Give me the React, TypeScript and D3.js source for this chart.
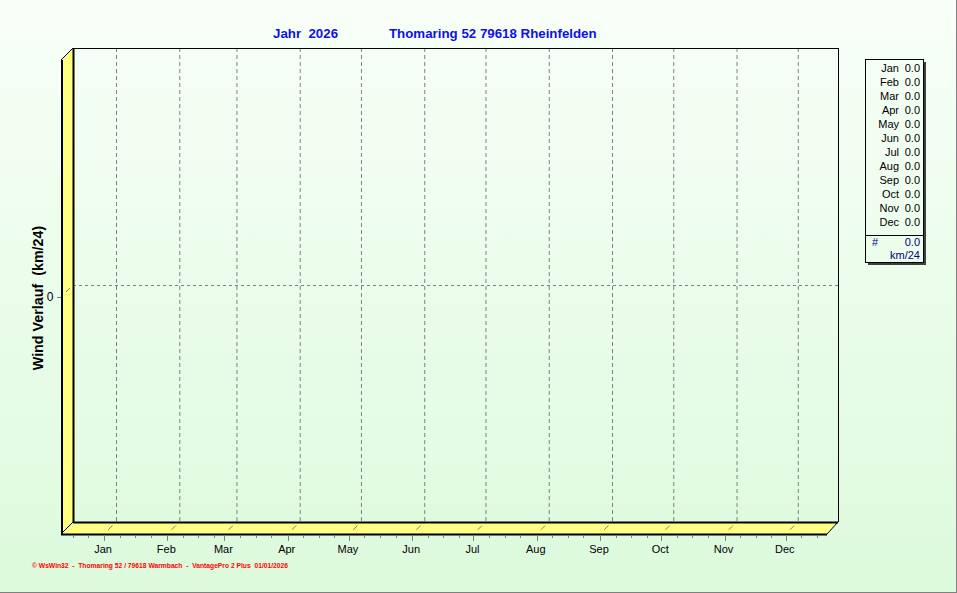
import React from "react";
import * as d3 from "d3";

const months = ["Jan", "Feb", "Mar", "Apr", "May", "Jun", "Jul", "Aug", "Sep", "Oct", "Nov", "Dec"];
const monthStartDay = [0, 31, 59, 90, 120, 151, 181, 212, 243, 273, 304, 334];
const monthValues = [0, 0, 0, 0, 0, 0, 0, 0, 0, 0, 0, 0];
const yTicks = [0];
const totalValue = 0;
const unitLabel = "km/24";
const titleYear = "Jahr  2026";
const titleStation = "Thomaring 52 79618 Rheinfelden";
const yTitle = "Wind Verlauf  (km/24)";
const footer = "\u00a9 WsWin32  -  Thomaring 52 / 79618 Warmbach  -  VantagePro 2 Plus  01/01/2026";

const W = 957;
const H = 593;
const DEPTH = 12;
const front = { left: 61, right: 827, bottom: 534 };
const back = { left: 73, right: 838, top: 48, bottom: 522 };

export default function App() {
  const x = d3.scaleLinear().domain([-21.07, 354.2]).range([front.left, front.right]);
  const y = d3.scaleLinear().domain([-1, 1]).range([back.bottom, back.top]);
  const minorStep = 365.25 / 12 / 4;
  const minorDays: number[] = [];
  for (let k = -3; k < 0; k++) minorDays.push(k * minorStep);
  monthStartDay.forEach((d) => {
    for (let k = 1; k <= 3; k++) minorDays.push(d + k * minorStep);
  });
  const minor = minorDays.filter((d) => x(d) >= front.left && x(d) <= front.right);
  const gray = "#808080";
  const legX = 865, legY = 59, legW = 58, legH = 203;
  const rowH = 14;

  return (
    <svg width={W} height={H} style={{ position: "absolute", left: 0, top: 0 }} fontFamily="'Liberation Sans', Arial, sans-serif">
      <defs>
        <linearGradient id="bg" x1="0" y1="0" x2="0" y2="1">
          <stop offset="0" stopColor="#f8fff8" />
          <stop offset="1" stopColor="#dcfadc" />
        </linearGradient>
      </defs>
      <rect x={0} y={0} width={W} height={H} fill="url(#bg)" />
      <line x1={0} y1={H - 0.5} x2={W} y2={H - 0.5} stroke={gray} />
      <line x1={W - 0.5} y1={0} x2={W - 0.5} y2={H} stroke={gray} />

      {/* Title */}
      <text x={273} y={38} fill="#1010e8" fontWeight="bold" fontSize={13.3} style={{ whiteSpace: "pre" }}>{titleYear}</text>
      <text x={389} y={38} fill="#1010e8" fontWeight="bold" fontSize={13.3}>{titleStation}</text>

      {/* Left wall */}
      <polygon
        points={`${front.left},${back.top + DEPTH} ${back.left},${back.top} ${back.left},${back.bottom} ${front.left},${front.bottom}`}
        fill="#ffff80"
      />
      {/* Floor */}
      <polygon
        points={`${front.left},${front.bottom} ${back.left},${back.bottom} ${back.right},${back.bottom} ${front.right},${front.bottom}`}
        fill="#ffff80"
      />

      {/* Vertical grid on back wall */}
      {monthStartDay.map((d, i) => (
        <line key={"vg" + i} x1={x(d) + DEPTH + 0.5} x2={x(d) + DEPTH + 0.5} y1={back.top} y2={back.bottom} stroke={gray} strokeDasharray="4 3" />
      ))}
      {/* Floor diagonals */}
      {monthStartDay.map((d, i) => {
        const x0 = x(d);
        return (
          <line key={"fd" + i} x1={x0 + DEPTH * 0.35} y1={front.bottom - DEPTH * 0.35} x2={x0 + DEPTH * 0.7} y2={front.bottom - DEPTH * 0.7} stroke={gray} />
        );
      })}
      {/* Horizontal grid */}
      {yTicks.map((t) => (
        <g key={"yg" + t}>
          <line x1={back.left} x2={back.right} y1={y(t) + 0.5} y2={y(t) + 0.5} stroke={gray} strokeDasharray="3 3" />
          <line x1={front.left + 5} y1={y(t) + DEPTH - 5} x2={front.left + 9} y2={y(t) + DEPTH - 9} stroke={gray} />
          <line x1={front.left - 4} x2={front.left + 1} y1={y(t) + DEPTH + 0.5} y2={y(t) + DEPTH + 0.5} stroke={gray} />
          <text x={50} y={y(t) + DEPTH + 4} fontSize={12} textAnchor="middle" fill="#000">{t}</text>
        </g>
      ))}

      {/* Edges */}
      <line x1={back.left} y1={back.top + 0.5} x2={back.right} y2={back.top + 0.5} stroke="#000" />
      <line x1={back.right + 0.5} y1={back.top} x2={back.right + 0.5} y2={back.bottom} stroke="#000" />
      <line x1={back.left + 0.5} y1={back.top} x2={back.left + 0.5} y2={back.bottom} stroke="#000" strokeWidth={2} />
      <line x1={back.left} y1={back.bottom + 0.5} x2={back.right} y2={back.bottom + 0.5} stroke="#000" strokeWidth={2} />
      <line x1={front.left} y1={back.top + DEPTH} x2={back.left} y2={back.top} stroke="#000" />
      <line x1={front.left} y1={front.bottom} x2={back.left} y2={back.bottom} stroke="#000" />
      <line x1={front.right} y1={front.bottom} x2={back.right} y2={back.bottom} stroke="#000" />
      <line x1={front.left + 1} y1={back.top + DEPTH} x2={front.left + 1} y2={front.bottom} stroke="#000" strokeWidth={2} />
      <line x1={front.left} y1={front.bottom + 0.5} x2={front.right} y2={front.bottom + 0.5} stroke="#000" strokeWidth={2} />

      {/* X axis ticks */}
      {minor.map((d, i) => (
        <line key={"mt" + i} x1={Math.round(x(d)) + 0.5} x2={Math.round(x(d)) + 0.5} y1={front.bottom + 1} y2={front.bottom + 4} stroke={gray} />
      ))}
      {monthStartDay.map((d, i) => (
        <g key={"Mt" + i}>
          <line x1={Math.round(x(d)) + 0.5} x2={Math.round(x(d)) + 0.5} y1={front.bottom + 1} y2={front.bottom + 7} stroke={gray} />
          <text x={x(d) - 1} y={553} fontSize={11} textAnchor="middle" fill="#000">{months[i]}</text>
        </g>
      ))}

      {/* Y title */}
      <text transform={`translate(43,298) rotate(-90)`} fontSize={14.3} fontWeight="bold" textAnchor="middle" fill="#000" style={{ whiteSpace: "pre" }}>{yTitle}</text>

      {/* Legend */}
      <rect x={legX + legW} y={legY + 3} width={3} height={legH} fill="#404040" />
      <rect x={legX + 3} y={legY + legH} width={legW} height={3} fill="#404040" />
      <rect x={legX + 0.5} y={legY + 0.5} width={legW} height={legH} fill="none" stroke="#000" />
      {months.map((m, i) => (
        <g key={"lg" + i}>
          <text x={899} y={legY + 13 + i * rowH} fontSize={11} textAnchor="end" fill="#000">{m}</text>
          <text x={920} y={legY + 13 + i * rowH} fontSize={11} textAnchor="end" fill="#000">{monthValues[i].toFixed(1)}</text>
        </g>
      ))}
      <line x1={legX} x2={legX + legW} y1={235.5} y2={235.5} stroke="#000" />
      <text x={872} y={246} fontSize={11} fill="#000080">#</text>
      <text x={920} y={246} fontSize={11} textAnchor="end" fill="#000080">{totalValue.toFixed(1)}</text>
      <text x={920} y={259} fontSize={11} textAnchor="end" fill="#000080">{unitLabel}</text>

      {/* Footer */}
      <text x={32} y={568} fontSize={7} fontWeight="bold" fill="#ff0000" textLength={256} lengthAdjust="spacingAndGlyphs" style={{ whiteSpace: "pre" }}>{footer}</text>
    </svg>
  );
}
